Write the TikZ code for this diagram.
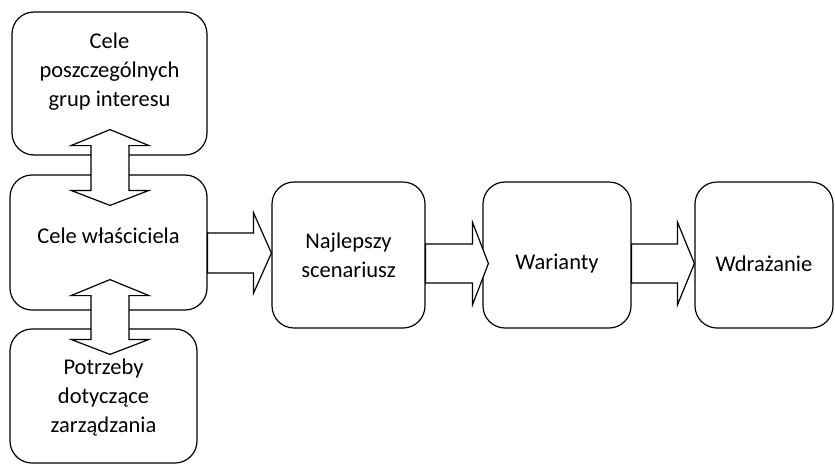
\documentclass[tikz,border=0pt]{standalone}
\usepackage{fontspec}
\setmainfont{Carlito}
\usetikzlibrary{calc}
\tikzset{
  x=1pt, y=-1pt,
  box/.style={draw, line width=1.2pt, rounded corners=22pt, inner sep=0pt},
  txt/.style={align=center, font=\fontsize{22.5}{29}\selectfont, inner sep=0pt},
  blk/.style={draw, line width=1.2pt, fill=white, line join=miter},
}
\newcommand\vdouble[2]{%
  \draw[blk] let \p1=(#1), \p2=(#2) in
    (\p1) -- ++(39,16) -- ++(-20,0) -- (\x1+19pt,\y2+15pt) -- ++(20,0) -- (\p2)
    -- ++(-39,-15) -- ++(20,0) -- (\x1-19pt,\y1-16pt) -- ++(-20,0) -- cycle;}
% #1 start, #2 tip, #3 half shaft, #4 half head, #5 head length
\newcommand\hblock[5]{%
  \draw[blk] let \p1=(#1), \p2=(#2) in
    (\x1,\y2+#3pt) -- (\x2-#5pt,\y2+#3pt) -- (\x2-#5pt,\y2+#4pt) -- (\p2)
    -- (\x2-#5pt,\y2-#4pt) -- (\x2-#5pt,\y2-#3pt) -- (\x1,\y2-#3pt) -- cycle;}
\begin{document}
\begin{tikzpicture}
\useasboundingbox (0,0) rectangle (835,466);
% boxes
\node[box, minimum width=195pt, minimum height=143pt] (A) at (109.5,83.5) {};
\node[box, minimum width=197pt, minimum height=135pt] (B) at (108.5,242.5) {};
\node[box, minimum width=187pt, minimum height=134pt] (C) at (103.5,396) {};
\node[box, minimum width=153pt, minimum height=146pt] (D) at (348.5,255) {};
\node[box, minimum width=148pt, minimum height=146pt] (E) at (557,255) {};
\node[box, minimum width=138pt, minimum height=146pt] (F) at (764,255) {};
% horizontal block arrows
\coordinate (s1) at (B.east |- 0,253);
\coordinate (t1) at (D.west |- 0,253);
\coordinate (s2) at (D.east |- 0,263.5);
\coordinate (t2) at ([xshift=6pt]E.west |- 0,263.5);
\coordinate (s3) at (E.east |- 0,263.5);
\coordinate (t3) at (F.west |- 0,263.5);
\hblock{s1}{t1}{20}{40.5}{18}
\hblock{s2}{t2}{19.5}{41.5}{16}
\hblock{s3}{t3}{19.5}{41.5}{17}
% vertical double arrows
\coordinate (u1) at ($(A.south)+(0.5,-26)$);
\coordinate (d1) at ($(B.north)+(1.5,31)$);
\coordinate (u2) at ($(B.south)+(1.5,-31)$);
\coordinate (d2) at ($(C.north)+(6.5,26)$);
\vdouble{u1}{d1}
\vdouble{u2}{d2}
% texts
\node[txt] (At) at ([yshift=12pt]A.center) {Cele\\poszczególnych\\grup interesu};
\node[txt] (Bt) at ([yshift=7pt]B.center) {Cele właściciela};
\node[txt] (Ct) at ([yshift=-1pt]C.center) {Potrzeby\\dotyczące\\zarządzania};
\node[txt] (Dt) at (D.center) {Najlepszy\\scenariusz};
\node[txt] (Et) at ([yshift=-9pt]E.center) {Warianty};
\node[txt] (Ft) at ([yshift=-9pt]F.center) {Wdrażanie};
\end{tikzpicture}
\end{document}
